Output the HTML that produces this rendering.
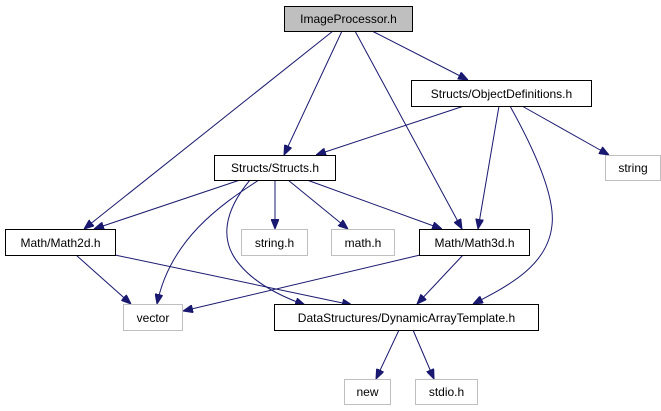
<!DOCTYPE html>
<html><head><meta charset="utf-8"><style>html,body{margin:0;padding:0;background:#fff}svg{display:block}</style></head>
<body>
<svg width="661" height="411" viewBox="0 0 661 411" xmlns="http://www.w3.org/2000/svg" font-family="Liberation Sans, sans-serif" font-size="12">
<defs>
<marker id="a" viewBox="0 0 10 8" refX="10" refY="4" markerWidth="10" markerHeight="8" markerUnits="userSpaceOnUse" orient="auto">
<path d="M0,0 L10,4 L0,8 z" fill="#191970" stroke="#191970"/>
</marker>
</defs>
<g fill="none" stroke="#191970" stroke-width="1" marker-end="url(#a)">
<path d="M333,31 L84,229"/>
<path d="M342,31 L284,155"/>
<path d="M355,31 L462,229"/>
<path d="M372,31 L468,80"/>
<path d="M464,106 L316,155"/>
<path d="M522,106 L609,155"/>
<path d="M499,106 L478,229"/>
<path d="M510,106 C540,160 555,200 552,225 C548,265 510,285 473,304"/>
<path d="M240,180 L94,229"/>
<path d="M259,180 C220,205 170,240 157,304"/>
<path d="M250,180 C225,210 218,240 240,265 C255,283 280,296 305,305"/>
<path d="M275,180 L275,229"/>
<path d="M288,180 L348,229"/>
<path d="M307,180 L442,229"/>
<path d="M76,255 L131,304"/>
<path d="M115,255 L352,305"/>
<path d="M420,255 L183,311"/>
<path d="M463,255 L417,304"/>
<path d="M399,330 L376,379"/>
<path d="M413,330 L434,379"/>
</g>
<g stroke-width="1">
<rect x="284.5" y="6.5" width="128" height="25" fill="#bfbfbf" stroke="#000"/>
<rect x="411.5" y="80.5" width="180" height="26" fill="#fff" stroke="#000"/>
<rect x="605.5" y="155.5" width="55" height="25" fill="#fff" stroke="#bfbfbf"/>
<rect x="214.5" y="155.5" width="121" height="25" fill="#fff" stroke="#000"/>
<rect x="5.5" y="229.5" width="110" height="26" fill="#fff" stroke="#000"/>
<rect x="241.5" y="229.5" width="66" height="26" fill="#fff" stroke="#bfbfbf"/>
<rect x="331.5" y="229.5" width="63" height="26" fill="#fff" stroke="#bfbfbf"/>
<rect x="419.5" y="229.5" width="110" height="26" fill="#fff" stroke="#000"/>
<rect x="123.5" y="304.5" width="59" height="26" fill="#fff" stroke="#bfbfbf"/>
<rect x="274.5" y="304.5" width="264" height="26" fill="#fff" stroke="#000"/>
<rect x="344.5" y="379.5" width="46" height="25" fill="#fff" stroke="#bfbfbf"/>
<rect x="415.5" y="379.5" width="62" height="25" fill="#fff" stroke="#bfbfbf"/>
</g>
<g fill="#000" text-anchor="middle">
<text x="348.5" y="23">ImageProcessor.h</text>
<text x="501.5" y="98">Structs/ObjectDefinitions.h</text>
<text x="633" y="172">string</text>
<text x="275" y="172">Structs/Structs.h</text>
<text x="60.5" y="247">Math/Math2d.h</text>
<text x="274.5" y="247">string.h</text>
<text x="363" y="247">math.h</text>
<text x="474.5" y="247">Math/Math3d.h</text>
<text x="153" y="322">vector</text>
<text x="406.5" y="322">DataStructures/DynamicArrayTemplate.h</text>
<text x="367.5" y="396">new</text>
<text x="446.5" y="396">stdio.h</text>
</g>
</svg>
</body></html>
